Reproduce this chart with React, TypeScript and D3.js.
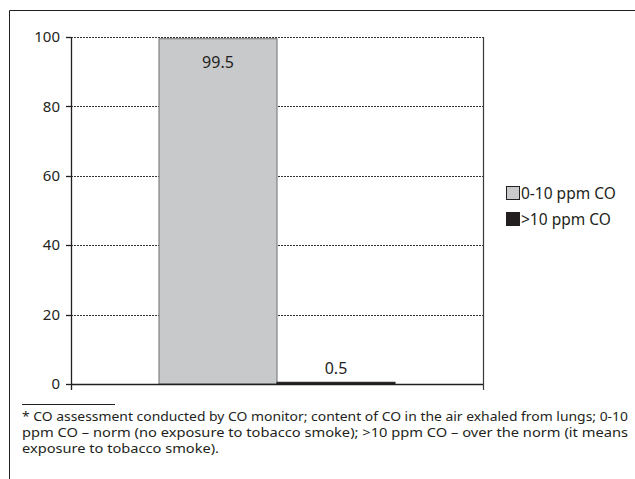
import React from "react";
import * as d3 from "d3";

const categories = ["CO"];
const seriesNames = ["0-10 ppm CO", ">10 ppm CO"];
const seriesValues = [99.5, 0.5];
const seriesLabels = ["99.5", "0.5"];
const yTicks = [0, 20, 40, 60, 80, 100];
const footnoteLines = [
  "* CO assessment conducted by CO monitor; content of CO in the air exhaled from lungs; 0-10",
  "ppm CO – norm (no exposure to tobacco smoke); >10 ppm CO – over the norm (it means",
  "exposure to tobacco smoke).",
];

const W = 635;
const H = 479;
const left = 71;
const right = 483;
const top = 37;
const bottom = 384;
const font = "'Noto Sans', 'Liberation Sans', sans-serif";
const fills = ["#c8c9cb", "#231f20"];
const strokes = ["#6d6e70", "#231f20"];

export default function App() {
  const y = d3.scaleLinear().domain([0, 100]).range([bottom, top]);
  const x0 = d3
    .scaleBand<string>()
    .domain(categories)
    .range([left, right])
    .paddingInner(0.2716)
    .paddingOuter(0.2716);
  const x1 = d3
    .scaleBand<string>()
    .domain(seriesNames)
    .range([0, x0.bandwidth()])
    .padding(0);

  return (
    <svg
      width={W}
      height={H}
      style={{ position: "absolute", left: 0, top: 0, display: "block" }}
      fontFamily={font}
    >
      <rect x={0} y={0} width={W} height={H} fill="#fff" />
      {/* outer frame */}
      <line x1={9.5} y1={10.5} x2={W} y2={10.5} stroke="#231f20" strokeWidth={1} />
      <line x1={9.5} y1={10.5} x2={9.5} y2={H} stroke="#231f20" strokeWidth={1} />

      {/* gridlines */}
      {yTicks
        .filter((t) => t > 0)
        .map((t) => (
          <line
            key={t}
            x1={left}
            x2={right}
            y1={Math.round(y(t)) + 0.5}
            y2={Math.round(y(t)) + 0.5}
            stroke="#333"
            strokeWidth={1}
            strokeDasharray="2,1"
          />
        ))}
      {/* right border of plot */}
      <line x1={right + 0.5} x2={right + 0.5} y1={top} y2={bottom + 6} stroke="#3a3a3a" strokeWidth={1.2} />

      {/* bars */}
      {categories.map((c) =>
        seriesNames.map((s, i) => {
          const bx = (x0(c) ?? 0) + (x1(s) ?? 0);
          const by = y(seriesValues[i]);
          return (
            <g key={c + s}>
              <rect
                x={bx}
                y={by}
                width={x1.bandwidth()}
                height={bottom - by}
                fill={fills[i]}
                stroke={strokes[i]}
                strokeWidth={1}
              />
              <text
                x={bx + x1.bandwidth() / 2}
                y={i === 0 ? by + 29 : by - 8}
                textAnchor="middle"
                fontSize={16}
                fill="#231f20"
              >
                {seriesLabels[i]}
              </text>
            </g>
          );
        })
      )}

      {/* y axis */}
      <line x1={left + 0.5} x2={left + 0.5} y1={top} y2={bottom + 6} stroke="#231f20" strokeWidth={1.3} />
      {yTicks.map((t) => (
        <g key={t}>
          <line x1={left - 5} x2={left} y1={Math.round(y(t)) + 0.5} y2={Math.round(y(t)) + 0.5} stroke="#231f20" strokeWidth={1.3} />
          <text x={left - 11} y={y(t)} dy="0.35em" textAnchor="end" fontSize={15} fill="#231f20">
            {t}
          </text>
        </g>
      ))}
      {/* x axis */}
      <line x1={left} x2={right} y1={bottom + 0.5} y2={bottom + 0.5} stroke="#231f20" strokeWidth={1.3} />

      {/* legend */}
      {seriesNames.map((s, i) => (
        <g key={s} transform={`translate(506, ${186 + i * 26})`}>
          <rect x={0.5} y={0.5} width={13} height={13} fill={fills[i]} stroke="#231f20" strokeWidth={1} />
          <text x={15} y={7} dy="0.36em" fontSize={15.5} fill="#231f20">
            {s}
          </text>
        </g>
      ))}

      {/* footnote */}
      <line x1={22} x2={115} y1={404.5} y2={404.5} stroke="#231f20" strokeWidth={1} />
      {footnoteLines.map((l, i) => (
        <text
          key={i}
          x={22}
          y={421 + i * 16}
          fontSize={12.5}
          fill="#231f20"
          textLength={i === 0 ? 606 : i === 1 ? 606 : 197}
          lengthAdjust="spacingAndGlyphs"
        >
          {l}
        </text>
      ))}
    </svg>
  );
}
